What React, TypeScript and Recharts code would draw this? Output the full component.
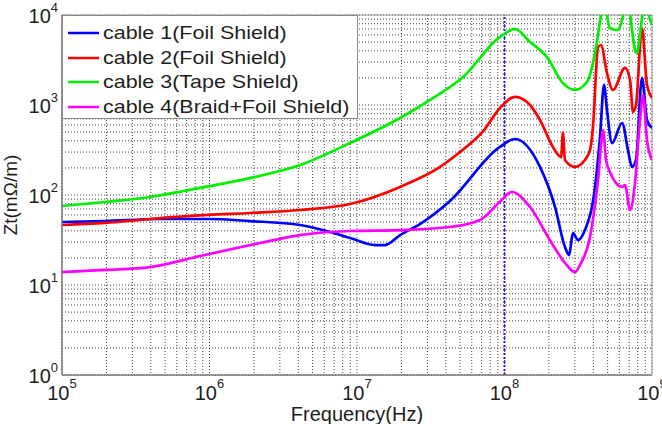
import React from 'react';
import { LineChart, Line, XAxis, YAxis, CartesianGrid, ReferenceLine, Legend } from 'recharts';

// Transfer impedance Zt (mΩ/m) versus frequency (Hz)
const cable1 = [
  { f: 1e5, z: 50.1 }, { f: 1.96e5, z: 51.3 }, { f: 4.61e5, z: 54.1 }, { f: 9.77e5, z: 54.1 },
  { f: 1.88e6, z: 51.3 }, { f: 4.11e6, z: 46.4 }, { f: 6.56e6, z: 38.8 }, { f: 8.97e6, z: 33.3 },
  { f: 1.33e7, z: 27.8 }, { f: 1.55e7, z: 27.8 }, { f: 1.96e7, z: 35.9 }, { f: 2.67e7, z: 47.6 },
  { f: 4.27e7, z: 86 }, { f: 9.31e7, z: 342 }, { f: 1.18e8, z: 419 }, { f: 1.74e8, z: 205 },
  { f: 2.2e8, z: 73.6 }, { f: 2.57e8, z: 26.4 }, { f: 2.74e8, z: 21.5 }, { f: 2.91e8, z: 37.8 },
  { f: 3.15e8, z: 31.6 }, { f: 3.51e8, z: 40.8 }, { f: 4.11e8, z: 123 }, { f: 4.44e8, z: 441 },
  { f: 4.73e8, z: 1670 }, { f: 4.95e8, z: 880 }, { f: 5.36e8, z: 378 }, { f: 6.27e8, z: 631 },
  { f: 6.87e8, z: 316 }, { f: 7.32e8, z: 205 }, { f: 7.79e8, z: 245 }, { f: 8.55e8, z: 2000 },
  { f: 9.25e8, z: 681 }, { f: 1e9, z: 555 },
];

const cable2 = [
  { f: 1e5, z: 46.4 }, { f: 1.96e5, z: 48.9 }, { f: 3.95e5, z: 54.1 }, { f: 9.77e5, z: 60 },
  { f: 1.88e6, z: 63.1 }, { f: 4.11e6, z: 68.1 }, { f: 8.97e6, z: 79.4 }, { f: 1.96e7, z: 123 },
  { f: 3.66e7, z: 205 }, { f: 4.99e7, z: 300 }, { f: 7.27e7, z: 527 }, { f: 9.31e7, z: 926 },
  { f: 1.18e8, z: 1230 }, { f: 1.49e8, z: 1000 }, { f: 1.74e8, z: 681 }, { f: 2.13e8, z: 342 },
  { f: 2.42e8, z: 264 }, { f: 2.49e8, z: 489 }, { f: 2.57e8, z: 245 }, { f: 3.0e8, z: 205 },
  { f: 3.51e8, z: 245 }, { f: 3.8e8, z: 316 }, { f: 3.98e8, z: 570 }, { f: 4.31e8, z: 4410 },
  { f: 4.51e8, z: 4640 }, { f: 4.95e8, z: 2270 }, { f: 5.44e8, z: 1470 }, { f: 6.56e8, z: 2580 },
  { f: 7.1e8, z: 1900 }, { f: 7.43e8, z: 836 }, { f: 7.79e8, z: 1000 }, { f: 8.55e8, z: 7170 },
  { f: 9.25e8, z: 1670 }, { f: 1e9, z: 1200 },
];

const cable3 = [
  { f: 1e5, z: 75.5 }, { f: 1.96e5, z: 83.6 }, { f: 3.95e5, z: 95 }, { f: 8.63e5, z: 120 },
  { f: 1.88e6, z: 154 }, { f: 4.11e6, z: 215 }, { f: 8.97e6, z: 378 }, { f: 1.96e7, z: 717 },
  { f: 3.13e7, z: 1140 }, { f: 5.24e7, z: 2050 }, { f: 9.31e7, z: 5700 }, { f: 1.18e8, z: 6990 },
  { f: 1.49e8, z: 5010 }, { f: 1.94e8, z: 3410 }, { f: 2.49e8, z: 1750 }, { f: 3.0e8, z: 1470 },
  { f: 3.62e8, z: 1800 }, { f: 4.11e8, z: 3780 }, { f: 4.51e8, z: 10000 }, { f: 4.73e8, z: 16000 },
  { f: 4.95e8, z: 10000 }, { f: 5.19e8, z: 7170 }, { f: 5.8e8, z: 6810 }, { f: 6.27e8, z: 8800 },
  { f: 6.56e8, z: 12800 }, { f: 6.87e8, z: 14700 }, { f: 7.32e8, z: 6810 }, { f: 7.67e8, z: 4080 },
  { f: 7.91e8, z: 3780 }, { f: 8.29e8, z: 6000 }, { f: 8.69e8, z: 11400 }, { f: 9.11e8, z: 14700 },
  { f: 9.52e8, z: 10000 }, { f: 1e9, z: 7740 },
];

const cable4 = [
  { f: 1e5, z: 13.9 }, { f: 1.96e5, z: 14.7 }, { f: 3.95e5, z: 15.8 }, { f: 8.63e5, z: 21.0 },
  { f: 2.2e6, z: 29.3 }, { f: 4.11e6, z: 35.9 }, { f: 8.97e6, z: 39.8 }, { f: 1.96e7, z: 40.8 },
  { f: 4.27e7, z: 44.1 }, { f: 6.83e7, z: 52.7 }, { f: 9.31e7, z: 84 }, { f: 1.12e8, z: 108 },
  { f: 1.49e8, z: 73.6 }, { f: 2.03e8, z: 31.6 }, { f: 2.57e8, z: 17.6 }, { f: 3.0e8, z: 13.9 },
  { f: 3.25e8, z: 16.7 }, { f: 3.8e8, z: 34.2 }, { f: 4.31e8, z: 147 }, { f: 4.66e8, z: 527 },
  { f: 4.88e8, z: 245 }, { f: 5.19e8, z: 180 }, { f: 6.27e8, z: 123 }, { f: 6.56e8, z: 129 },
  { f: 7.1e8, z: 68.1 }, { f: 7.67e8, z: 136 }, { f: 8.29e8, z: 681 }, { f: 8.69e8, z: 1290 },
  { f: 9.25e8, z: 408 }, { f: 1e9, z: 245 },
];

const seriesNames = [
  'cable 1(Foil Shield)',
  'cable 2(Foil Shield)',
  'cable 3(Tape Shield)',
  'cable 4(Braid+Foil Shield)',
];
const seriesColors = ['#0000ff', '#ff0000', '#00ee00', '#ff00ff'];

const xDecades = [5, 6, 7, 8, 9];
const yDecades = [0, 1, 2, 3, 4];
const mantissas = [1, 2, 3, 4, 5, 6, 7, 8, 9];
const markerFreq = 1e8;

// major + minor log ticks (grid lines at every one, labels on powers of ten)
const logTicks = (decades: number[]) => {
  const out: number[] = [];
  decades.forEach((d, i) => {
    if (i === decades.length - 1) {
      out.push(Math.pow(10, d));
    } else {
      mantissas.forEach((m) => out.push(m * Math.pow(10, d)));
    }
  });
  return out;
};
const xTicks = logTicks(xDecades);
const yTicks = logTicks(yDecades);

const exponentOf = (v: number) => {
  const e = Math.log10(v);
  return Math.abs(e - Math.round(e)) < 1e-9 ? Math.round(e) : null;
};

const FONT = '"Liberation Sans", Arial, sans-serif';
const TEXT = '#1e1e1e';

const XTick = (props: any) => {
  const { x, y, payload } = props;
  const e = exponentOf(payload.value);
  if (e === null) return <g />;
  return (
    <text x={x} y={y + 25} textAnchor="middle" fontFamily={FONT} fill={TEXT}>
      <tspan fontSize={20}>10</tspan>
      <tspan fontSize={13} dy={-12}>{e}</tspan>
    </text>
  );
};

const YTick = (props: any) => {
  const { x, y, payload } = props;
  const e = exponentOf(payload.value);
  if (e === null) return <g />;
  return (
    <text x={x - 4} y={y + 8} textAnchor="end" fontFamily={FONT} fill={TEXT}>
      <tspan fontSize={20}>10</tspan>
      <tspan fontSize={13} dy={-11}>{e}</tspan>
    </text>
  );
};

const LegendBox = () => (
  <div
    style={{
      width: 296,
      height: 104,
      boxSizing: 'border-box',
      border: '1px solid #8a8a8a',
      background: '#fff',
      paddingTop: 5,
      fontFamily: FONT,
    }}
  >
    {seriesNames.map((name, i) => (
      <div key={name} style={{ height: 24.5, display: 'flex', alignItems: 'center' }}>
        <svg width={40} height={10} style={{ flex: 'none' }}>
          <line x1={5} x2={36} y1={5} y2={5} stroke={seriesColors[i]} strokeWidth={2.5} />
        </svg>
        <span
          style={{
            fontSize: 18.5,
            color: TEXT,
            whiteSpace: 'nowrap',
            display: 'inline-block',
            transform: 'scaleX(1.16)',
            transformOrigin: 'left center',
          }}
        >
          {name}
        </span>
      </div>
    ))}
  </div>
);

export default function App() {
  const seriesData = [cable1, cable2, cable3, cable4];
  return (
    <div style={{ position: 'absolute', left: 0, top: 0, background: '#fff' }}>
      <LineChart width={662} height={424} margin={{ top: 15, right: 10, bottom: 10, left: 10 }}>
        <CartesianGrid stroke="#444" strokeWidth={1} strokeDasharray="1 2" />
        <XAxis
          dataKey="f"
          type="number"
          scale="log"
          domain={[1e5, 1e9]}
          allowDataOverflow
          ticks={xTicks}
          interval={0}
          tick={<XTick />}
          tickLine={false}
          tickSize={0}
          tickMargin={0}
          height={39}
          axisLine={{ stroke: '#777', strokeWidth: 1.5 }}
          label={{
            content: () => (
              <text x={357} y={421} textAnchor="middle" fontSize={20} fontFamily={FONT} fill={TEXT}>
                Frequency(Hz)
              </text>
            ),
          }}
        />
        <YAxis
          dataKey="z"
          type="number"
          scale="log"
          domain={[1, 10000]}
          allowDataOverflow
          ticks={yTicks}
          interval={0}
          tick={<YTick />}
          tickLine={false}
          tickSize={0}
          tickMargin={0}
          width={52}
          axisLine={{ stroke: '#777', strokeWidth: 1.5 }}
          label={{
            content: () => (
              <text
                x={17}
                y={195}
                textAnchor="middle"
                fontSize={19}
                fontFamily={FONT}
                fill={TEXT}
                transform="rotate(-90, 17, 195)"
              >
                Zt(mΩ/m)
              </text>
            ),
          }}
        />
        <ReferenceLine y={10000} stroke="#999" strokeWidth={1} />
        <ReferenceLine x={1e9} stroke="#999" strokeWidth={1} />
        <ReferenceLine x={markerFreq} stroke="#1a1aff" strokeWidth={2} strokeDasharray="2 2" />
        {seriesData.map((d, i) => (
          <Line
            key={seriesNames[i]}
            data={d}
            dataKey="z"
            name={seriesNames[i]}
            type="monotone"
            stroke={seriesColors[i]}
            strokeWidth={2.7}
            dot={false}
            activeDot={false}
            isAnimationActive={false}
          />
        ))}
        <Legend
          layout="vertical"
          align="center"
          verticalAlign="middle"
          wrapperStyle={{ left: 62, top: 15, width: 296, height: 104 }}
          content={() => <LegendBox />}
        />
      </LineChart>
    </div>
  );
}
